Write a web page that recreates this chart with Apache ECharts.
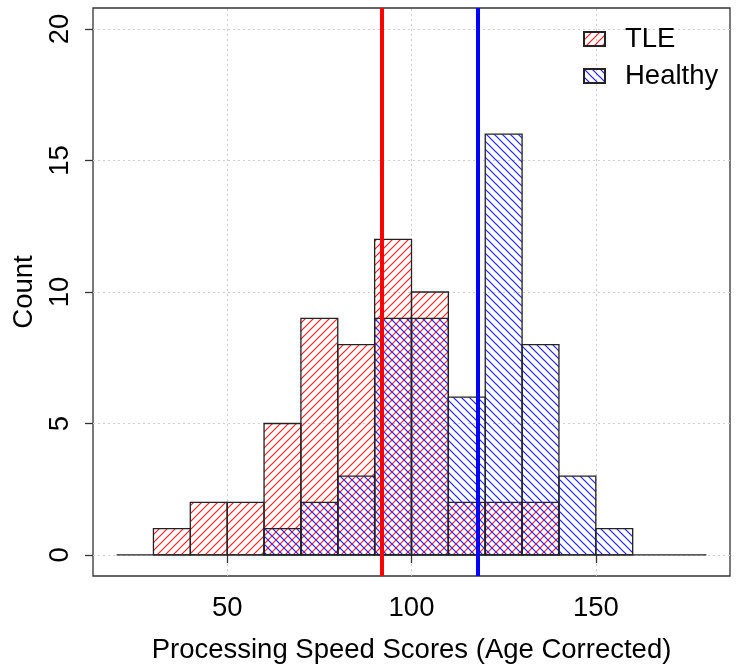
<!DOCTYPE html>
<html><head><meta charset="utf-8">
<script src="https://cdn.jsdelivr.net/npm/echarts@6/dist/echarts.min.js"></script>
<style>html,body{margin:0;padding:0;background:#fff}#c{width:737px;height:670px}</style>
</head><body><div id="c"></div>
<script>
// Histogram bins (width 10)
const binStarts = [30, 40, 50, 60, 70, 80, 90, 100, 110, 120, 130, 140, 150];
const tleCounts = [1, 2, 2, 5, 9, 8, 12, 10, 2, 2, 2, 0, 0];
const healthyCounts = [0, 0, 0, 1, 2, 3, 9, 9, 6, 16, 8, 3, 1];
const binWidth = 10;
const tleMean = 91.9;
const healthyMean = 117.9;
const xTicks = [50, 100, 150];
const yTicks = [0, 5, 10, 15, 20];
const baseline = [[20, 0], [180, 0]];

function hatch(color, dir) {
  const s = 8;
  const c = document.createElement('canvas');
  c.width = s; c.height = s;
  const ctx = c.getContext('2d');
  ctx.strokeStyle = color; ctx.lineWidth = 1.2;
  ctx.beginPath();
  if (dir > 0) {
    ctx.moveTo(-1, s + 1); ctx.lineTo(s + 1, -1);
    ctx.moveTo(-1, 1); ctx.lineTo(1, -1);
    ctx.moveTo(s - 1, s + 1); ctx.lineTo(s + 1, s - 1);
  } else {
    ctx.moveTo(-1, -1); ctx.lineTo(s + 1, s + 1);
    ctx.moveTo(s - 1, -1); ctx.lineTo(s + 1, 1);
    ctx.moveTo(-1, s - 1); ctx.lineTo(1, s + 1);
  }
  ctx.stroke();
  return { image: c, repeat: 'repeat' };
}
const redHatch = hatch('#ff2020', 1);
const blueHatch = hatch('#2020ff', -1);

function histData(counts) {
  const out = [];
  counts.forEach((v, i) => { if (v > 0) out.push([binStarts[i], binStarts[i] + binWidth, v]); });
  return out;
}
function makeRender(fill) {
  return function (params, api) {
    const p0 = api.coord([api.value(0), api.value(2)]);
    const p1 = api.coord([api.value(1), 0]);
    return {
      type: 'rect',
      shape: { x: p0[0], y: p0[1], width: p1[0] - p0[0], height: p1[1] - p0[1] },
      style: { fill: fill, stroke: '#222', lineWidth: 1.3 }
    };
  };
}
const font = 'Liberation Sans, Arial, sans-serif';
const gridStyle = { color: '#cfcfcf', type: [2, 3], width: 1 };

const chart = echarts.init(document.getElementById('c'));
chart.setOption({
  animation: false,
  backgroundColor: '#fff',
  grid: { left: 93, right: 7, top: 8, bottom: 94, show: true, borderColor: '#333', borderWidth: 1.3, backgroundColor: 'transparent' },
  legend: {
    left: 578, top: 20, orient: 'vertical', itemWidth: 21, itemHeight: 14, itemGap: 9,
    icon: 'rect',
    textStyle: { fontFamily: font, fontSize: 27.5, color: '#000', padding: [0, 0, 0, 15] },
    data: ['TLE', 'Healthy']
  },
  xAxis: {
    type: 'value', min: 13.6, max: 186.4,
    axisLine: { show: false },
    axisTick: { show: true, length: 8, customValues: xTicks, lineStyle: { color: '#333', width: 1.3 } },
    axisLabel: { customValues: xTicks, margin: 18, fontFamily: font, fontSize: 27.5, color: '#000' },
    splitLine: { show: false },
    name: 'Processing Speed Scores (Age Corrected)', nameLocation: 'middle', nameGap: 60,
    nameTextStyle: { fontFamily: font, fontSize: 27.5, color: '#000' }
  },
  yAxis: {
    type: 'value', min: -0.8, max: 20.8,
    axisLine: { show: false },
    axisTick: { show: true, length: 8, customValues: yTicks, lineStyle: { color: '#333', width: 1.3 } },
    axisLabel: { customValues: yTicks, rotate: 90, margin: 18.5, fontFamily: font, fontSize: 27.5, color: '#000' },
    splitLine: { show: false },
    name: 'Count', nameLocation: 'middle', nameGap: 55,
    nameTextStyle: { fontFamily: font, fontSize: 27.5, color: '#000' }
  },
  series: [
    {
      type: 'line', silent: true, data: [], symbol: 'none', z: 0,
      markLine: {
        silent: true, symbol: 'none', label: { show: false }, lineStyle: gridStyle, z: 0,
        data: xTicks.map(v => ({ xAxis: v })).concat(yTicks.map(v => ({ yAxis: v })))
      }
    },
    {
      type: 'line', data: baseline, symbol: 'none', silent: true,
      lineStyle: { color: '#222', width: 1.3 }, z: 1
    },
    {
      name: 'TLE', type: 'custom', data: histData(tleCounts), renderItem: makeRender(redHatch),
      itemStyle: { color: redHatch, borderColor: '#222', borderWidth: 1.3 }, z: 2
    },
    {
      name: 'Healthy', type: 'custom', data: histData(healthyCounts), renderItem: makeRender(blueHatch),
      itemStyle: { color: blueHatch, borderColor: '#222', borderWidth: 1.3 }, z: 3
    },
    {
      type: 'line', data: [], symbol: 'none', silent: true, z: 5,
      markLine: {
        silent: true, symbol: 'none', label: { show: false },
        data: [
          { xAxis: tleMean, lineStyle: { color: '#ff0000', width: 4, type: 'solid' } },
          { xAxis: healthyMean, lineStyle: { color: '#0000ff', width: 4, type: 'solid' } }
        ]
      }
    }
  ]
});
</script></body></html>
